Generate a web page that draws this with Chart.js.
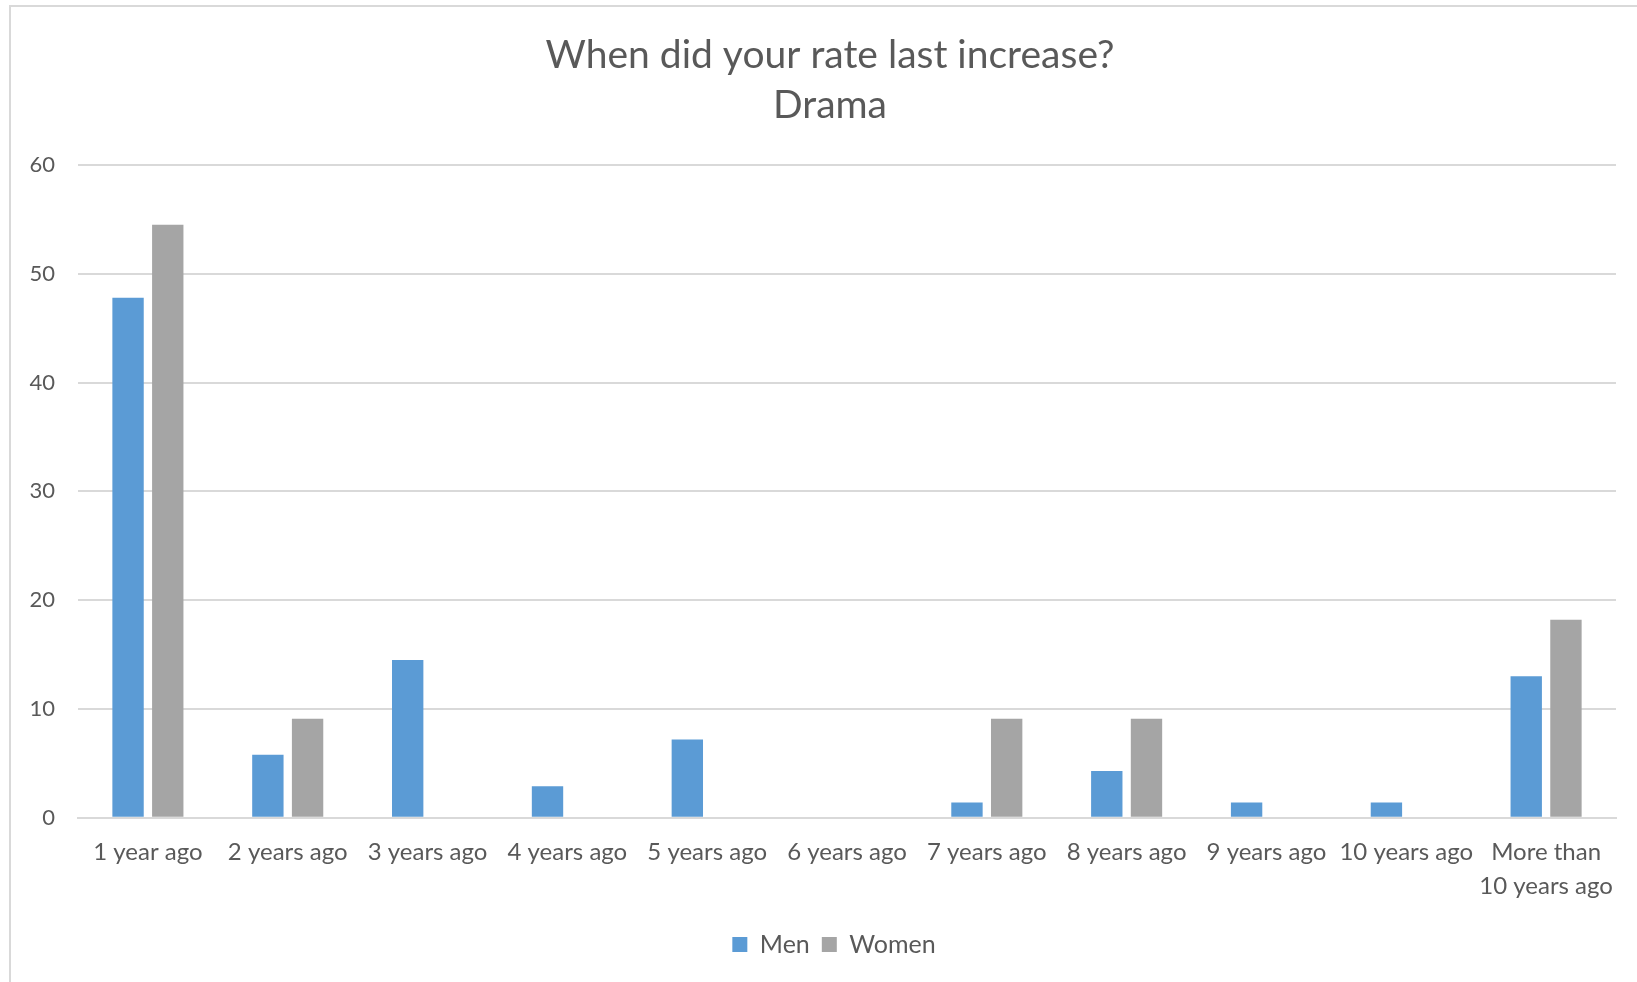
<!DOCTYPE html>
<html>
<head>
<meta charset="utf-8">
<title>When did your rate last increase? Drama</title>
<script src="https://cdn.jsdelivr.net/npm/chart.js@4"></script>
<style>
  html, body { margin: 0; padding: 0; background: #fff; overflow: hidden; }
  #frame { position: absolute; left: 9px; top: 5px; width: 1700px; height: 1000px; border: 2px solid #d9d9d9; }
  #wrap { position: absolute; left: 0; top: 0; width: 1660px; height: 982px; }
</style>
</head>
<body>
<div id="frame"></div>
<div id="wrap"><canvas id="chart"></canvas></div>
<script>
// answers per category, in percent
const categories = ['1 year ago', '2 years ago', '3 years ago', '4 years ago', '5 years ago',
  '6 years ago', '7 years ago', '8 years ago', '9 years ago', '10 years ago', ['More than', '10 years ago']];
const men   = [47.8, 5.8, 14.5, 2.9, 7.2, 0, 1.4, 4.3, 1.4, 1.4, 13.0];
const women = [54.5, 9.1, 0, 0, 0, 0, 9.1, 9.1, 0, 0, 18.2];
const yTicks = [0, 10, 20, 30, 40, 50, 60];

const textColor = '#595959';
const fontFamily = 'Lato, "Open Sans", sans-serif';

// title and legend are centred on the whole frame, not between the paddings
const recentre = {
  id: 'recentre',
  afterLayout(chart) {
    chart.titleBlock.left = 0;
    chart.titleBlock.right = 1660;
    chart.legend.left = 0;
    chart.legend.right = 1668;
    chart.legend.top -= 1;
    chart.legend.bottom -= 1;
  }
};

const ctx = document.getElementById('chart').getContext('2d');
const chart = new Chart(ctx, {
  type: 'bar',
  data: {
    labels: categories,
    datasets: [
      { label: 'Men', data: men, backgroundColor: '#5b9bd5' },
      { label: 'Women', data: women, backgroundColor: '#a5a5a5' }
    ]
  },
  plugins: [recentre],
  options: {
    responsive: true,
    maintainAspectRatio: false,
    animation: false,
    categoryPercentage: 0.568,
    barPercentage: 0.79,
    layout: { padding: { left: 20, right: 44, top: 0, bottom: 14 } },
    plugins: {
      title: {
        display: true,
        text: ['When did your rate last increase?', 'Drama'],
        color: textColor,
        font: { family: fontFamily, size: 39, weight: 'normal', lineHeight: 1.282 },
        padding: { top: 30, bottom: 35 }
      },
      legend: {
        position: 'bottom',
        labels: {
          color: textColor,
          boxWidth: 15,
          boxHeight: 15,
          padding: 12,
          font: { family: fontFamily, size: 25 }
        }
      },
      tooltip: { enabled: false }
    },
    scales: {
      x: {
        grid: { display: false, drawTicks: false },
        border: { display: true, color: '#d9d9d9', width: 2 },
        ticks: {
          color: textColor,
          padding: 18,
          maxRotation: 0,
          autoSkip: false,
          font: { family: fontFamily, size: 24, lineHeight: 1.4 }
        }
      },
      y: {
        min: 0,
        max: 60,
        afterBuildTicks: (scale) => { scale.ticks = yTicks.map(v => ({ value: v })); },
        afterFit: (scale) => { scale.width = 58; },
        grid: { color: '#d9d9d9', lineWidth: 2, drawTicks: false },
        border: { display: false },
        ticks: {
          color: textColor,
          padding: 23,
          font: { family: fontFamily, size: 22 }
        }
      }
    }
  }
});
</script>
</body>
</html>
